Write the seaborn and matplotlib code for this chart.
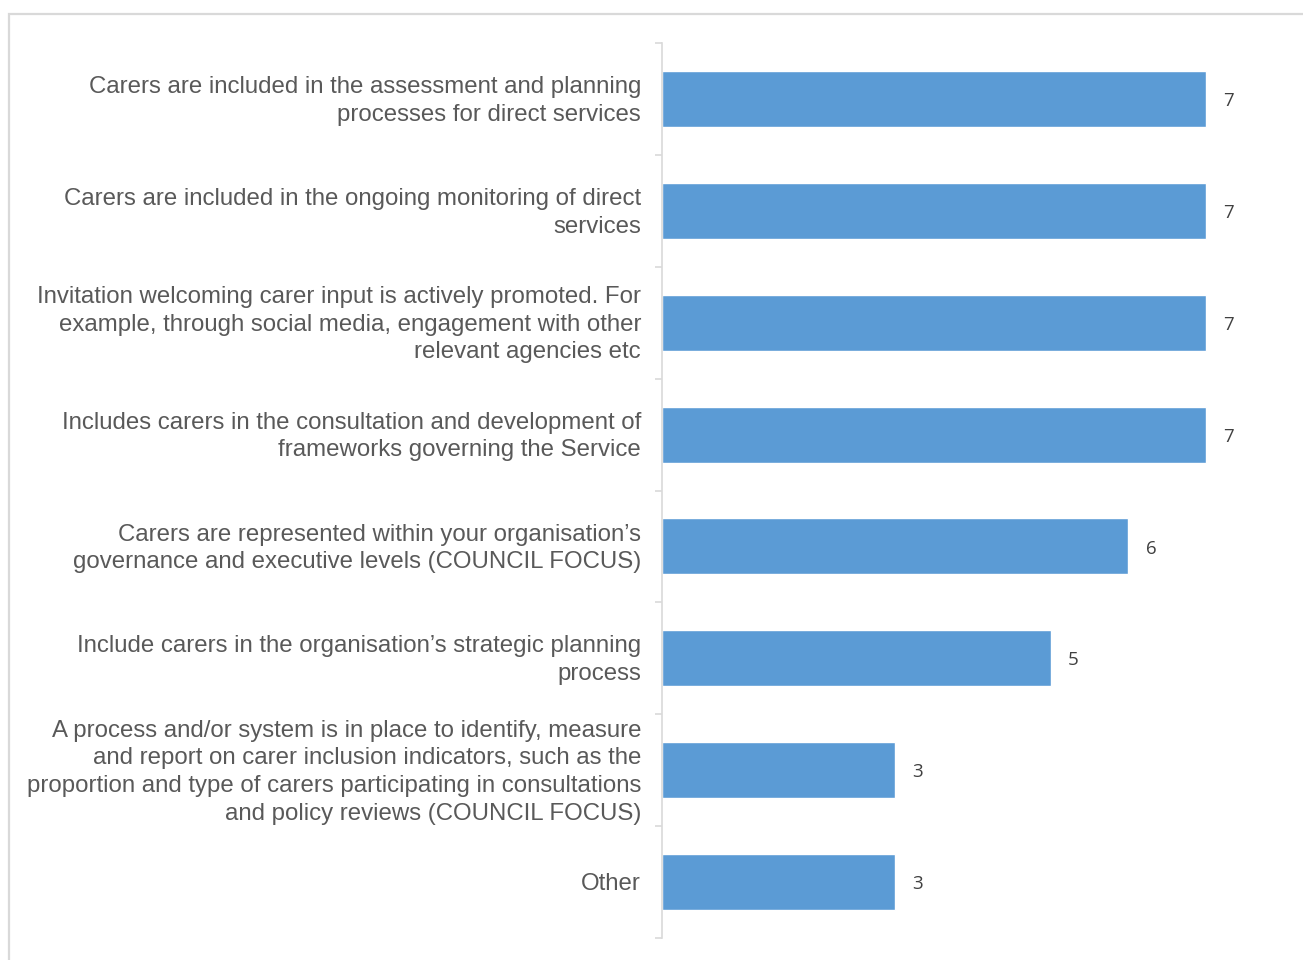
import matplotlib
matplotlib.use("Agg")
import matplotlib.pyplot as plt
import matplotlib.transforms as mtransforms
import seaborn as sns
import pandas as pd
from matplotlib.patches import Rectangle

categories = [
    "Carers are included in the assessment and planning\nprocesses for direct services",
    "Carers are included in the ongoing monitoring of direct\nservices",
    "Invitation welcoming carer input is actively promoted. For\nexample, through social media, engagement with other\nrelevant agencies etc",
    "Includes carers in the consultation and development of\nframeworks governing the Service",
    "Carers are represented within your organisation\u2019s\ngovernance and executive levels (COUNCIL FOCUS)",
    "Include carers in the organisation\u2019s strategic planning\nprocess",
    "A process and/or system is in place to identify, measure\nand report on carer inclusion indicators, such as the\nproportion and type of carers participating in consultations\nand policy reviews (COUNCIL FOCUS)",
    "Other",
]
values = [7, 7, 7, 7, 6, 5, 3, 3]

sns.set_style("white")
plt.rcParams['font.family'] = ['Liberation Sans', 'DejaVu Sans']

W, H = 1303, 960
fig = plt.figure(figsize=(W / 100, H / 100), dpi=100)
fig.patch.set_facecolor("white")

# outer border
fig.patches.append(Rectangle((9 / W, -0.1), 1.2, (H - 14) / H + 0.1, transform=fig.transFigure,
                             fill=False, edgecolor="#d9d9d9", linewidth=1.6))

ax = fig.add_axes([662 / W, 22 / H, (8 * 77.7) / W, (938 - 43) / H])
df = pd.DataFrame({"cat": categories, "val": values})
sns.barplot(data=df, x="val", y="cat", orient="h", color="#5B9BD5", saturation=1,
            width=0.5, ax=ax)

ax.set_xlim(0, 8)
ax.set_ylim(len(categories) - 0.5, -0.5)
ax.set_xlabel("")
ax.set_ylabel("")
ax.set_xticks([])
for s in ["top", "right", "bottom"]:
    ax.spines[s].set_visible(False)
ax.spines["left"].set_color("#d9d9d9")
ax.spines["left"].set_linewidth(1.2)

# category labels, right-aligned left of the axis
ax.set_yticks([])
label_tr = ax.get_yaxis_transform() + mtransforms.ScaledTranslation(-21 / 100, -2 / 100, fig.dpi_scale_trans)
for i, c in enumerate(categories):
    ax.text(0, i, c, transform=label_tr, ha="right", va="center", fontsize=17.3,
            color="#595959", linespacing=1.34, multialignment="right")

ax.set_yticks([i - 0.5 for i in range(len(categories) + 1)], minor=True)
ax.tick_params(axis="y", which="minor", length=5, width=1.2, color="#d9d9d9", left=True)

for i, v in enumerate(values):
    ax.annotate(str(v), xy=(v, i), xytext=(12.5, -1.5), textcoords="offset points",
                ha="left", va="center", fontsize=13.5, color="#404040",
                family=["Open Sans", "DejaVu Sans"])

fig.savefig("out.png", dpi=100, facecolor="white")
